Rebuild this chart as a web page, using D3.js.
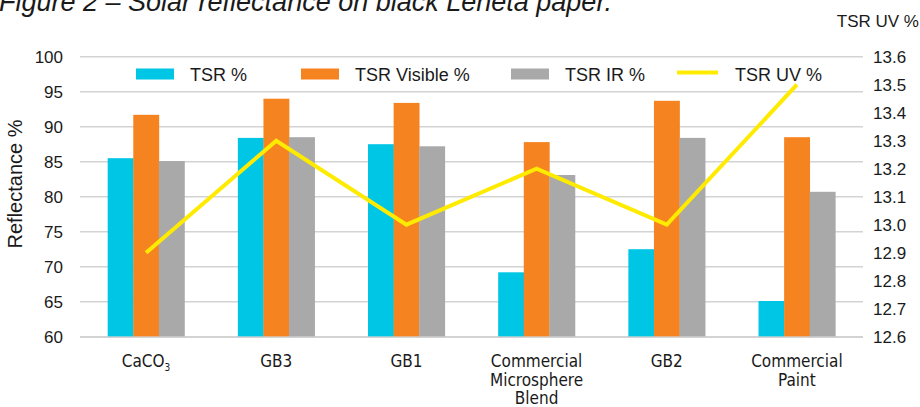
<!DOCTYPE html>
<meta charset="utf-8">
<style>
  body { margin: 0; background: #fff; }
  text { font-family: "Liberation Sans", Arial, sans-serif; fill: #1a1a1a; }
  .cat text { font-family: "Liberation Sans Narrow", "DejaVu Sans Condensed", Arial, sans-serif; }
</style>
<body>
<div id="chart"></div>
<script src="https://cdn.jsdelivr.net/npm/d3@7"></script>
<script>

// data
var categories = ["CaCO3", "GB3", "GB1", "Commercial Microsphere Blend", "GB2", "Commercial Paint"];
var catLines = [["CaCO"], ["GB3"], ["GB1"], ["Commercial", "Microsphere", "Blend"], ["GB2"], ["Commercial", "Paint"]];
var tsr        = [85.5, 88.4, 87.5, 69.2, 72.5, 65.1];
var tsrVisible = [91.7, 94.0, 93.4, 87.8, 93.7, 88.5];
var tsrIR      = [85.1, 88.5, 87.2, 83.1, 88.4, 80.7];
var tsrUV      = [12.9, 13.3, 13.0, 13.2, 13.0, 13.5];
var leftTicks  = [60, 65, 70, 75, 80, 85, 90, 95, 100];
var rightTicks = [12.6, 12.7, 12.8, 12.9, 13.0, 13.1, 13.2, 13.3, 13.4, 13.5, 13.6];

var barSeries = [
  { name: "TSR %", values: tsr, color: "#00C6E6" },
  { name: "TSR Visible %", values: tsrVisible, color: "#F58420" },
  { name: "TSR IR %", values: tsrIR, color: "#A9A9A9" }
];
var lineColor = "#FFEB00";

var width = 920, height = 407;
var plotLeft = 81, plotRight = 862, plotTop = 56.7, plotBottom = 336.7;

var svg = d3.select("#chart").append("svg")
    .attr("width", width)
    .attr("height", height);

var x = d3.scaleBand()
    .domain(categories)
    .range([plotLeft, plotRight])
    .paddingInner(0.41)
    .paddingOuter(0.205);

var xSub = d3.scaleBand()
    .domain(barSeries.map(function(s) { return s.name; }))
    .range([0, x.bandwidth()]);

var y = d3.scaleLinear().domain([60, 100]).range([plotBottom, plotTop]);
var y2 = d3.scaleLinear().domain([12.6, 13.6]).range([plotBottom, plotTop]);

// title, cut off at the top edge
svg.append("text")
    .attr("x", -1)
    .attr("y", 11)
    .style("font-size", "27px")
    .style("font-style", "italic")
    .text("Figure 2 \u2013 Solar reflectance on black Leneta paper.");

// gridlines
svg.append("g")
    .selectAll("line")
    .data(leftTicks)
    .enter().append("line")
    .attr("x1", plotLeft - 1)
    .attr("x2", plotRight + 1)
    .attr("y1", function(d) { return y(d); })
    .attr("y2", function(d) { return y(d); })
    .style("stroke", "#D3D3D3")
    .style("stroke-width", 1.6);

// left axis
var yAxis = svg.append("g")
    .attr("transform", "translate(" + (plotLeft - 1) + ",0)")
    .call(d3.axisLeft(y).tickValues(leftTicks).tickSize(0).tickPadding(17));
yAxis.select(".domain").remove();
yAxis.selectAll("text").style("font-size", "17px").style("fill", "#1a1a1a").style("font-family", "\"Liberation Sans\", Arial, sans-serif");

// right axis
var yAxis2 = svg.append("g")
    .attr("transform", "translate(" + (plotRight + 1) + ",0)")
    .call(d3.axisRight(y2).tickValues(rightTicks).tickFormat(d3.format(".1f")).tickSize(0).tickPadding(10));
yAxis2.select(".domain").remove();
yAxis2.selectAll("text").style("font-size", "17px").style("fill", "#1a1a1a").style("font-family", "\"Liberation Sans\", Arial, sans-serif");

svg.append("text")
    .attr("transform", "translate(22,184) rotate(-90)")
    .attr("text-anchor", "middle")
    .style("font-size", "20px")
    .text("Reflectance %");

svg.append("text")
    .attr("x", 919)
    .attr("y", 27)
    .attr("text-anchor", "end")
    .style("font-size", "17px")
    .text("TSR UV %");

// bars
barSeries.forEach(function(s) {
  svg.append("g")
      .selectAll("rect")
      .data(s.values)
      .enter().append("rect")
      .attr("x", function(d, i) { return x(categories[i]) + xSub(s.name); })
      .attr("y", function(d) { return y(d); })
      .attr("width", xSub.bandwidth() + 0.3)
      .attr("height", function(d) { return y(60) - y(d); })
      .style("fill", s.color);
});

// baseline
svg.append("line")
    .attr("x1", plotLeft - 1).attr("x2", plotRight + 1)
    .attr("y1", plotBottom + 0.5).attr("y2", plotBottom + 0.5)
    .style("stroke", "#D3D3D3")
    .style("stroke-width", 1.6);

// TSR UV line
var line = d3.line()
    .x(function(d, i) { return x(categories[i]) + x.bandwidth() / 2; })
    .y(function(d) { return y2(d); });

svg.append("path")
    .datum(tsrUV)
    .attr("d", line)
    .style("fill", "none")
    .style("stroke", lineColor)
    .style("stroke-width", 4);

// category labels
var cat = svg.append("g").attr("class", "cat");
catLines.forEach(function(lines, i) {
  var cx = x(categories[i]) + x.bandwidth() / 2;
  var t = cat.append("text")
      .attr("x", cx)
      .attr("y", 367)
      .attr("text-anchor", "middle")
      .style("font-size", "17px");
  lines.forEach(function(l, j) {
    t.append("tspan")
        .attr("x", cx)
        .attr("dy", j === 0 ? 0 : 18.5)
        .text(l);
  });
  if (categories[i] === "CaCO3") {
    t.append("tspan").attr("dy", 4).style("font-size", "10px").text("3");
  }
});

// legend
var legendItems = [
  { name: "TSR %", color: barSeries[0].color, kind: "bar", x: 136 },
  { name: "TSR Visible %", color: barSeries[1].color, kind: "bar", x: 301 },
  { name: "TSR IR %", color: barSeries[2].color, kind: "bar", x: 511 },
  { name: "TSR UV %", color: lineColor, kind: "line", x: 677 }
];
var legend = svg.append("g");
legendItems.forEach(function(it) {
  if (it.kind === "bar") {
    legend.append("rect")
        .attr("x", it.x).attr("y", 68.5)
        .attr("width", 38).attr("height", 11)
        .style("fill", it.color);
  } else {
    legend.append("line")
        .attr("x1", it.x).attr("x2", it.x + 41)
        .attr("y1", 72.5).attr("y2", 72.5)
        .style("stroke", it.color)
        .style("stroke-width", 4);
  }
  legend.append("text")
      .attr("x", it.x + 54 + (it.kind === "line" ? 4 : 0))
      .attr("y", 81)
      .style("font-size", "18px")
      .text(it.name);
});

</script>
</body>
